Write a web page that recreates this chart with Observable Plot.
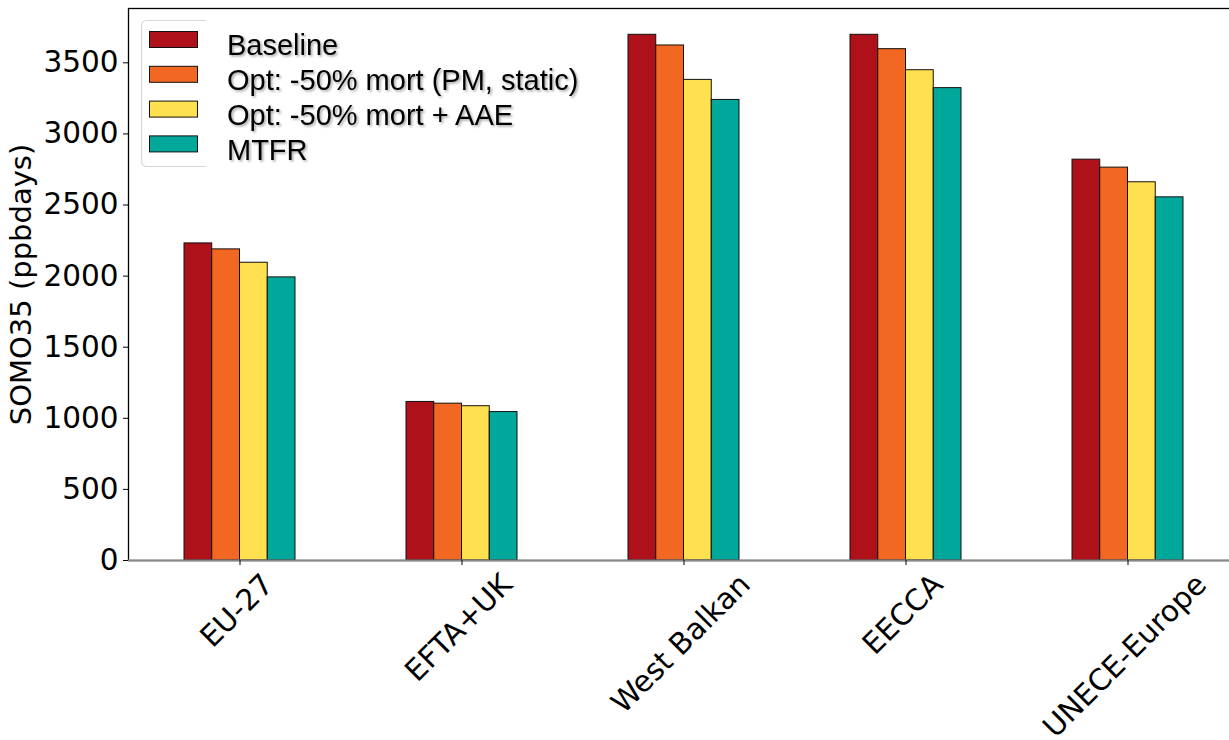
<!DOCTYPE html>
<html>
<head>
<meta charset="utf-8">
<script src="https://cdn.jsdelivr.net/npm/d3@7"></script>
<script src="https://cdn.jsdelivr.net/npm/@observablehq/plot@0.6"></script>
<style>
  html, body { margin: 0; padding: 0; background: #fff; }
  #wrap { position: relative; width: 1229px; height: 740px; overflow: hidden; }
  #legend { position: absolute; left: 0; top: 0; }
</style>
</head>
<body>
<div id="wrap"></div>
<script>
// ---- Data ----
const categories = ["EU-27", "EFTA+UK", "West Balkan", "EECCA", "UNECE-Europe"];
const series = ["Baseline", "Opt: -50% mort (PM, static)", "Opt: -50% mort + AAE", "MTFR"];
const baseline   = [2230, 1115, 3697, 3697, 2819];
const optStatic  = [2188, 1103, 3622, 3596, 2763];
const optAAE     = [2094, 1085, 3380, 3448, 2660];
const mtfr       = [1991, 1044, 3239, 3322, 2554];
const seriesValues = [baseline, optStatic, optAAE, mtfr];
const colors = ["#ae1119", "#f26722", "#ffe04f", "#00a89c"];
const yTicks = [0, 500, 1000, 1500, 2000, 2500, 3000, 3500];
const yLabel = "SOMO35 (ppbdays)";

// ---- Table ----
const rows = [];
series.forEach((s, j) => categories.forEach((c, i) => rows.push({category: c, series: s, value: seriesValues[j][i]})));

// ---- Layout ----
const W = 1229, H = 740;
const xRange = [128, 1238];
const nCat = categories.length;
const padInner = 0.5, padOuter = 0.25;
const step = (xRange[1] - xRange[0]) / (nCat - padInner + 2 * padOuter);
const bw = step * (1 - padInner);
const quarter = bw / series.length;

const tickFont = "DejaVu Sans";
const fs = 29.5;
const canvas = document.createElement("canvas");
const ctx = canvas.getContext("2d");
ctx.font = `${fs}px '${tickFont}'`;

const barMarks = series.map((s, j) => Plot.barY(rows.filter(r => r.series === s), {
  x: "category", y: "value", fill: colors[j], stroke: "#111", strokeWidth: 1,
  insetLeft: j * quarter, insetRight: (series.length - 1 - j) * quarter
}));

const xLabelMarks = categories.map(c => {
  const L = ctx.measureText(c).width;
  const dy = 7 + (L + 1.164 * fs) / (2 * Math.SQRT2);
  return Plot.text([c], {
    x: d => d, frameAnchor: "bottom", rotate: -45, textAnchor: "middle", lineAnchor: "middle",
    dy, dx: -3, fontSize: fs, fontFamily: tickFont, fill: "#000"
  });
});

const chart = Plot.plot({
  width: W, height: H,
  marginLeft: 128, marginRight: -9, marginTop: 8, marginBottom: 180,
  style: { fontFamily: tickFont, fontSize: fs + "px", background: "#fff", color: "#000" },
  x: { type: "band", domain: categories, range: xRange, paddingInner: padInner, paddingOuter: padOuter, label: null },
  y: { domain: [0, 3882], range: [560, 8], label: null },
  marks: [
    ...barMarks,
    Plot.frame({ stroke: "#000", strokeWidth: 1.3 }),
    Plot.ruleY([0], { stroke: "#8a8a8a", strokeWidth: 2 }),
    Plot.axisY({ ticks: yTicks, tickFormat: d => String(d), tickSize: 5, tickPadding: 5, fontSize: fs, fontFamily: tickFont, label: null }),
    Plot.axisX({ tickSize: 5, tickFormat: () => "", label: null }),
    ...xLabelMarks,
    Plot.text([yLabel], { frameAnchor: "left", rotate: -90, dx: -107, textAnchor: "middle", lineAnchor: "middle", fontSize: 29, fontFamily: tickFont, fill: "#000" })
  ]
});
const wrap = document.getElementById("wrap");
wrap.appendChild(chart);

// ---- Legend (overlay inside plot area) ----
const svg = d3.select(wrap).append("svg").attr("id", "legend").attr("width", W).attr("height", H);
const defs = svg.append("defs");
const f = defs.append("filter").attr("id", "shadow").attr("x", "-10%").attr("y", "-30%").attr("width", "130%").attr("height", "160%");
f.append("feDropShadow").attr("dx", 1.6).attr("dy", 1.6).attr("stdDeviation", 1.1).attr("flood-color", "#000").attr("flood-opacity", 0.35);
// partial legend frame (top, left, bottom)
svg.append("path")
  .attr("d", "M206,20.5 L147,20.5 Q141.5,20.5 141.5,26 L141.5,161 Q141.5,166.5 147,166.5 L206,166.5")
  .attr("fill", "none").attr("stroke", "#d8d8d8").attr("stroke-width", 1.2);
const g = svg.append("g");
series.forEach((s, i) => {
  g.append("rect").attr("x", 149.5).attr("y", 31.5 + i * 34.8).attr("width", 48).attr("height", 16)
    .attr("fill", colors[i]).attr("stroke", "#111").attr("stroke-width", 1);
  g.append("text").attr("x", 227).attr("y", 55 + i * 35).text(s)
    .attr("font-family", "'Liberation Sans', Arial, sans-serif").attr("font-size", 29)
    .attr("fill", "#000").attr("filter", "url(#shadow)");
});
</script>
</body>
</html>
